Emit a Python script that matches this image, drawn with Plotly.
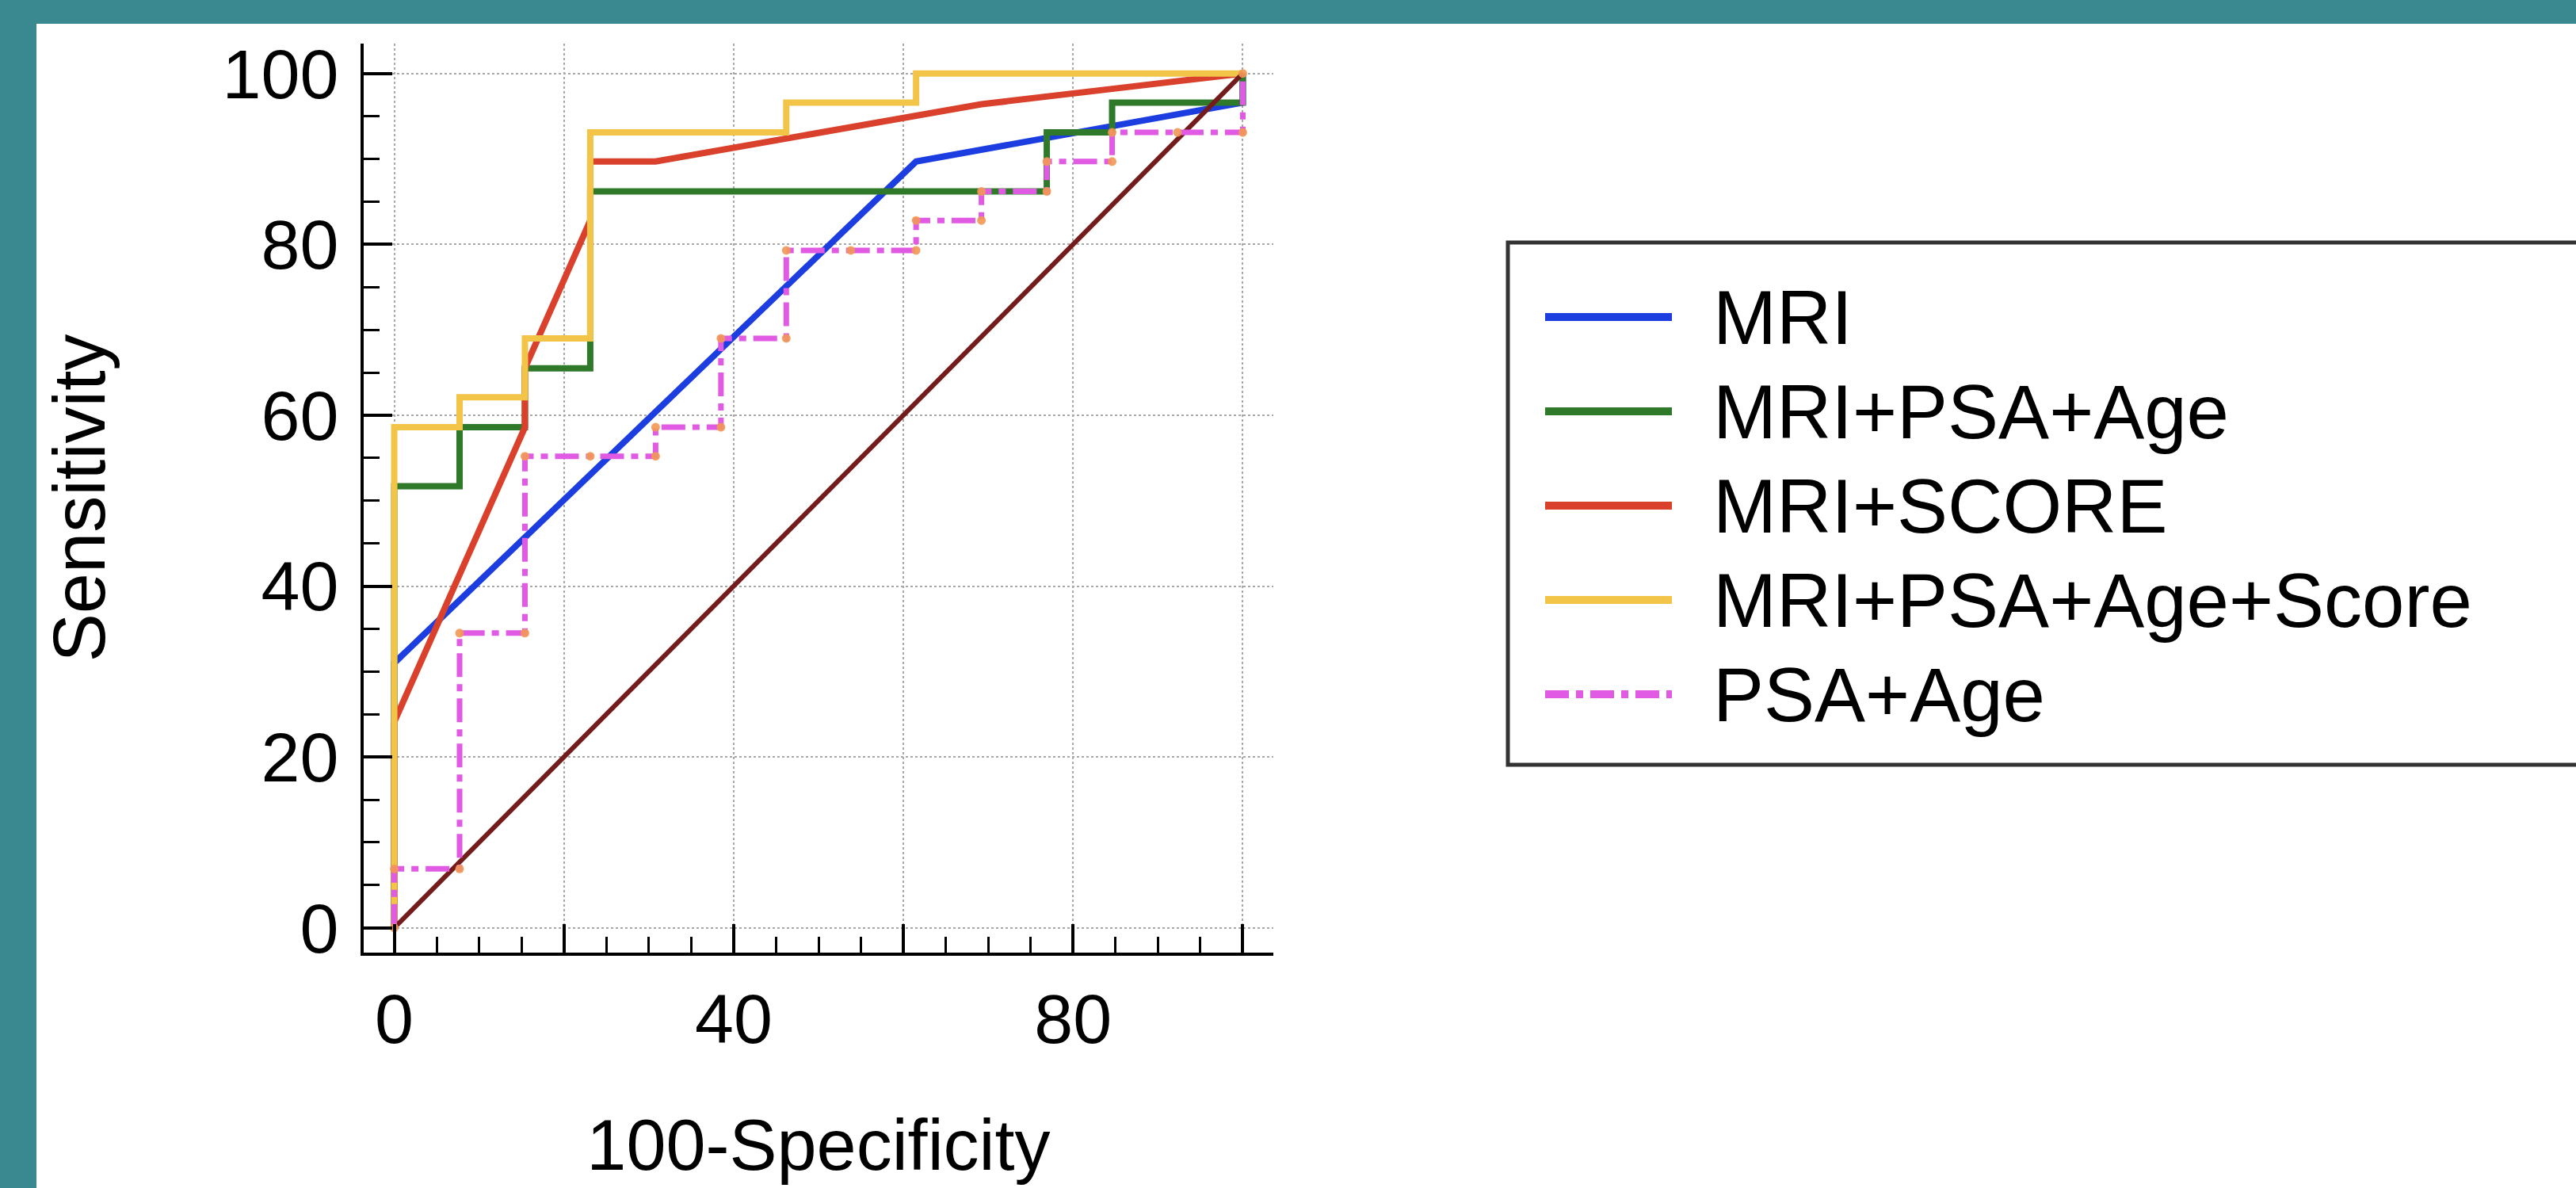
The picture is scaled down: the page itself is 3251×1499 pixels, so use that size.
import plotly.graph_objects as go

# ---------------- data ----------------
series_names = ["MRI", "MRI+PSA+Age", "MRI+SCORE", "MRI+PSA+Age+Score", "PSA+Age"]

mri_fpr = [0, 0, 61.5, 100, 100]
mri_sens = [0, 31.0, 89.7, 96.6, 100]

mri_psa_age_fpr = [0, 0, 7.7, 7.7, 15.4, 15.4, 23.1, 23.1, 76.9, 76.9, 84.6, 84.6, 100, 100]
mri_psa_age_sens = [0, 51.7, 51.7, 58.6, 58.6, 65.5, 65.5, 86.2, 86.2, 93.1, 93.1, 96.6, 96.6, 100]

mri_score_fpr = [0, 0, 15.4, 15.4, 23.1, 23.1, 30.8, 40.0, 46.2, 61.5, 69.2, 84.6, 100]
mri_score_sens = [0, 24.1, 58.6, 65.5, 82.8, 89.7, 89.7, 91.3, 92.4, 95.0, 96.4, 98.2, 100]

mri_psa_age_score_fpr = [0, 0, 7.7, 7.7, 15.4, 15.4, 23.1, 23.1, 46.2, 46.2, 61.5, 61.5, 100]
mri_psa_age_score_sens = [0, 58.6, 58.6, 62.1, 62.1, 69.0, 69.0, 93.1, 93.1, 96.6, 96.6, 100, 100]

psa_age_fpr = [0, 0, 7.7, 7.7, 15.4, 15.4, 23.1, 30.8, 30.8, 38.5, 38.5, 46.2, 46.2, 53.8,
               61.5, 61.5, 69.2, 69.2, 76.9, 76.9, 84.6, 84.6, 92.3, 100, 100]
psa_age_sens = [0, 6.9, 6.9, 34.5, 34.5, 55.2, 55.2, 55.2, 58.6, 58.6, 69.0, 69.0, 79.3, 79.3,
                79.3, 82.8, 82.8, 86.2, 86.2, 89.7, 89.7, 93.1, 93.1, 93.1, 100]

reference_fpr = [0, 100]
reference_sens = [0, 100]

x_tick_vals = [0, 20, 40, 60, 80, 100]
x_tick_text = ["0", "", "40", "", "80", ""]
y_tick_vals = [0, 20, 40, 60, 80, 100]
y_tick_text = ["0", "20", "40", "60", "80", "100"]

x_title = "100-Specificity"
y_title = "Sensitivity"

# ---------------- styles ----------------
FONT = "Liberation Sans, Arial, Helvetica, sans-serif"
colors = ["#1c3ee0", "#2f7a2a", "#d9412c", "#f2c448", "#e05ae4"]
dashes = ["solid", "solid", "solid", "solid", "30px,9px,9px,9px"]
widths = [8, 8, 8, 8, 7]
ref_color = "#741c1c"
teal = "#3a8991"

W, H = 3251, 1499
ML, MR, MT, MB = 459, W - 1607, 55, H - 1202


def pxx(px):
    return (px - ML) / (W - ML - MR)


def pxy(py):
    return (H - MB - py) / (H - MT - MB)


fig = go.Figure()

series_x = [mri_fpr, mri_psa_age_fpr, mri_score_fpr, mri_psa_age_score_fpr]
series_y = [mri_sens, mri_psa_age_sens, mri_score_sens, mri_psa_age_score_sens]
for i in range(4):
    fig.add_trace(go.Scatter(
        x=series_x[i], y=series_y[i], mode="lines", name=series_names[i],
        line=dict(color=colors[i], width=widths[i], dash=dashes[i]),
        hoverinfo="x+y+name"))

fig.add_trace(go.Scatter(
    x=reference_fpr, y=reference_sens, mode="lines", name="Reference",
    line=dict(color=ref_color, width=6), showlegend=False))

fig.add_trace(go.Scatter(
    x=psa_age_fpr, y=psa_age_sens, mode="lines+markers", name=series_names[4],
    line=dict(color=colors[4], width=widths[4], dash=dashes[4]),
    marker=dict(size=11, color="rgba(242,152,84,0.9)", line=dict(width=0))))

axis_common = dict(
    showline=True, linecolor="black", linewidth=4, mirror=False,
    ticks="inside", ticklen=36, tickwidth=4, tickcolor="black",
    showgrid=True, gridcolor="#a8a8a8", gridwidth=2, griddash="dot",
    zeroline=False,
    tickfont=dict(family=FONT, size=88, color="black"),
    minor=dict(ticks="inside", ticklen=20, tickwidth=3, tickcolor="black",
               tickmode="linear", tick0=0, dtick=5, showgrid=False),
)

fig.update_xaxes(range=[-3.6, 103.6], tickmode="array", tickvals=x_tick_vals,
                 ticktext=x_tick_text, ticklabelstandoff=4,
                 title=dict(text=x_title, font=dict(family=FONT, size=90, color="black"),
                            standoff=80),
                 **axis_common)
fig.update_yaxes(range=[-2.9, 103.5], tickmode="array", tickvals=y_tick_vals,
                 ticktext=y_tick_text, ticklabelstandoff=10,
                 title=dict(text=y_title, font=dict(family=FONT, size=92, color="black"),
                            standoff=118),
                 **axis_common)

# background: teal frame with white panel
shapes = [dict(type="rect", xref="paper", yref="paper", layer="below",
               x0=pxx(46), x1=pxx(W + 10), y0=pxy(30), y1=pxy(H + 10),
               fillcolor="white", line=dict(width=0))]

# legend drawn as a boxed key (box runs off the right edge like the original)
shapes.append(dict(type="rect", xref="paper", yref="paper", layer="above",
                   x0=pxx(1903), x1=pxx(W + 40), y0=pxy(306), y1=pxy(965),
                   fillcolor="rgba(0,0,0,0)", line=dict(color="#333333", width=5)))
annotations = []
for i, name in enumerate(series_names):
    yy = pxy(400 + i * 119)
    shapes.append(dict(type="line", xref="paper", yref="paper",
                       x0=pxx(1950), x1=pxx(2110), y0=yy, y1=yy,
                       line=dict(color=colors[i], width=10, dash=dashes[i])))
    annotations.append(dict(xref="paper", yref="paper", x=pxx(2160), y=yy,
                            xanchor="left", yanchor="middle", showarrow=False,
                            text=name, font=dict(family=FONT, size=96, color="black")))

fig.update_layout(
    width=W, height=H,
    margin=dict(l=ML, r=MR, t=MT, b=MB, autoexpand=False),
    paper_bgcolor=teal, plot_bgcolor="white",
    showlegend=False,
    shapes=shapes, annotations=annotations,
    font=dict(family=FONT, color="black"),
)

fig.write_html("out.html", config={"displayModeBar": False},
               post_script="document.body.style.margin='0px';")
